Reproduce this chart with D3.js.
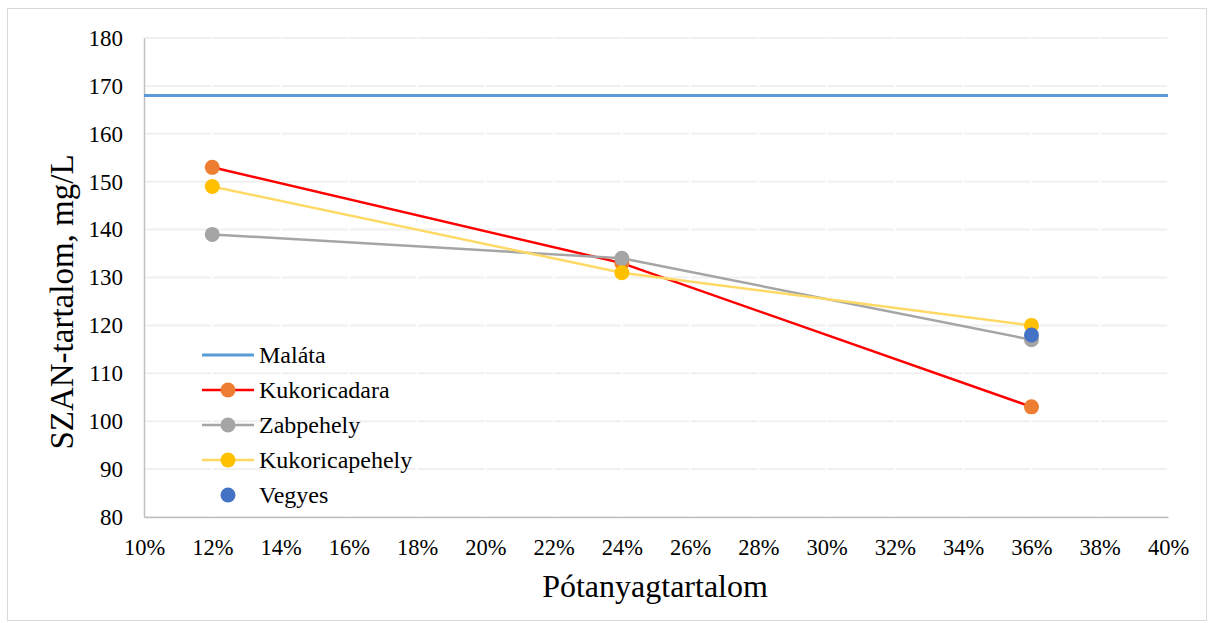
<!DOCTYPE html>
<html>
<head>
<meta charset="utf-8">
<script src="https://cdn.jsdelivr.net/npm/d3@7"></script>
<style>
  body { margin: 0; background: #fff; }
</style>
</head>
<body>
<div id="wrapper"></div>
<script>
// data
let xValues = [0.12, 0.24, 0.36]
let malata = 168
let kukoricadara = [153, 133, 103]
let zabpehely = [139, 134, 117]
let kukoricapehely = [149, 131, 120]
let vegyes = [{ x: 0.36, y: 118 }]
let xTicks = [0.10, 0.12, 0.14, 0.16, 0.18, 0.20, 0.22, 0.24, 0.26, 0.28, 0.30, 0.32, 0.34, 0.36, 0.38, 0.40]
let yTicks = [80, 90, 100, 110, 120, 130, 140, 150, 160, 170, 180]

const FONT = "'Liberation Serif', 'Times New Roman', serif"

function drawChart() {
    let dimensions = {
        width: 1212,
        height: 623,
        margin: { top: 38, right: 44, bottom: 106, left: 144 }
    }
    let innerW = dimensions.width - dimensions.margin.left - dimensions.margin.right
    let innerH = dimensions.height - dimensions.margin.top - dimensions.margin.bottom

    let root = d3.select("#wrapper")
        .append("svg")
        .attr("width", dimensions.width)
        .attr("height", dimensions.height)
        .style("font-family", FONT)

    // outer frame
    root.append("rect")
        .attr("x", 7.5).attr("y", 8.5)
        .attr("width", 1199).attr("height", 612)
        .attr("fill", "none")
        .attr("stroke", "#d9d9d9")

    let svg = root.append("g")
        .attr("transform", `translate(${dimensions.margin.left},${dimensions.margin.top})`)

    let x = d3.scaleLinear().domain([0.10, 0.40]).range([0, innerW])
    let y = d3.scaleLinear().domain([80, 180]).range([innerH, 0])

    // gridlines
    svg.append("g")
        .selectAll("line")
        .data(yTicks)
        .enter()
        .append("line")
        .attr("x1", 0).attr("x2", innerW)
        .attr("y1", d => y(d)).attr("y2", d => y(d))
        .attr("stroke", "#f0f0f0")
        .attr("stroke-width", 2)
    // small gaps in gridlines at x ticks
    svg.append("g")
        .selectAll("line")
        .data(xTicks.slice(1))
        .enter()
        .append("line")
        .attr("x1", d => x(d)).attr("x2", d => x(d))
        .attr("y1", 0).attr("y2", innerH)
        .attr("stroke", "#fff")
        .attr("stroke-width", 2)

    // y axis
    let yAxis = svg.append("g")
        .call(d3.axisLeft(y).tickValues(yTicks).tickSize(0).tickPadding(21))
    yAxis.attr("font-family", null).attr("font-size", null)
    yAxis.select(".domain").attr("stroke", "#bfbfbf").attr("stroke-width", 1.5)
    yAxis.selectAll("text").style("font-size", "23px").style("font-family", FONT).attr("fill", "#000")

    // x axis
    let xAxis = svg.append("g")
        .attr("transform", `translate(0,${innerH})`)
        .call(d3.axisBottom(x).tickValues(xTicks).tickSize(0).tickPadding(22)
            .tickFormat(d3.format(".0%")))
    xAxis.attr("font-family", null).attr("font-size", null)
    xAxis.select(".domain").attr("stroke", "#bfbfbf").attr("stroke-width", 1.5)
    xAxis.selectAll("text").style("font-size", "22.5px").style("font-family", FONT).attr("fill", "#000")

    // titles
    root.append("text")
        .attr("x", 655).attr("y", 597)
        .attr("text-anchor", "middle")
        .style("font-size", "32px")
        .text("Pótanyagtartalom")
    root.append("text")
        .attr("transform", "translate(73,302) rotate(-90)")
        .attr("text-anchor", "middle")
        .style("font-size", "33px")
        .text("SZAN-tartalom, mg/L")

    // Maláta line
    svg.append("line")
        .attr("x1", 0).attr("x2", innerW)
        .attr("y1", y(malata)).attr("y2", y(malata))
        .attr("stroke", "#5b9bd5")
        .attr("stroke-width", 3)

    let series = [
        { name: "Kukoricadara", values: kukoricadara, line: "#ff0000", marker: "#ed7d31" },
        { name: "Zabpehely", values: zabpehely, line: "#a5a5a5", marker: "#a5a5a5" },
        { name: "Kukoricapehely", values: kukoricapehely, line: "#ffd966", marker: "#ffc000" }
    ]

    let line = d3.line()
        .x((d, i) => x(xValues[i]))
        .y(d => y(d))

    series.forEach(s => {
        svg.append("path")
            .datum(s.values)
            .attr("fill", "none")
            .attr("stroke", s.line)
            .attr("stroke-width", 2.5)
            .attr("d", line)
    })
    series.forEach(s => {
        svg.append("g")
            .selectAll("circle")
            .data(s.values)
            .enter()
            .append("circle")
            .attr("cx", (d, i) => x(xValues[i]))
            .attr("cy", d => y(d))
            .attr("r", 7.5)
            .attr("fill", s.marker)
    })
    svg.append("g")
        .selectAll("circle")
        .data(vegyes)
        .enter()
        .append("circle")
        .attr("cx", d => x(d.x))
        .attr("cy", d => y(d.y))
        .attr("r", 7.5)
        .attr("fill", "#4472c4")

    // legend
    let legendItems = [
        { name: "Maláta", line: "#5b9bd5", marker: null },
        { name: "Kukoricadara", line: "#ff0000", marker: "#ed7d31" },
        { name: "Zabpehely", line: "#a5a5a5", marker: "#a5a5a5" },
        { name: "Kukoricapehely", line: "#ffd966", marker: "#ffc000" },
        { name: "Vegyes", line: null, marker: "#4472c4" }
    ]
    let legend = root.append("g").attr("transform", "translate(202,355)")
    let rows = legend.selectAll("g")
        .data(legendItems)
        .enter()
        .append("g")
        .attr("transform", (d, i) => `translate(0,${i * 35})`)
    rows.filter(d => d.line)
        .append("line")
        .attr("x1", 0).attr("x2", 52)
        .attr("stroke", d => d.line)
        .attr("stroke-width", d => d.marker ? 2.5 : 3)
    rows.filter(d => d.marker)
        .append("circle")
        .attr("cx", 26)
        .attr("r", 7.5)
        .attr("fill", d => d.marker)
    rows.append("text")
        .attr("x", 57)
        .attr("dy", "0.35em")
        .style("font-size", "24px")
        .text(d => d.name)
}

drawChart()
</script>
</body>
</html>
